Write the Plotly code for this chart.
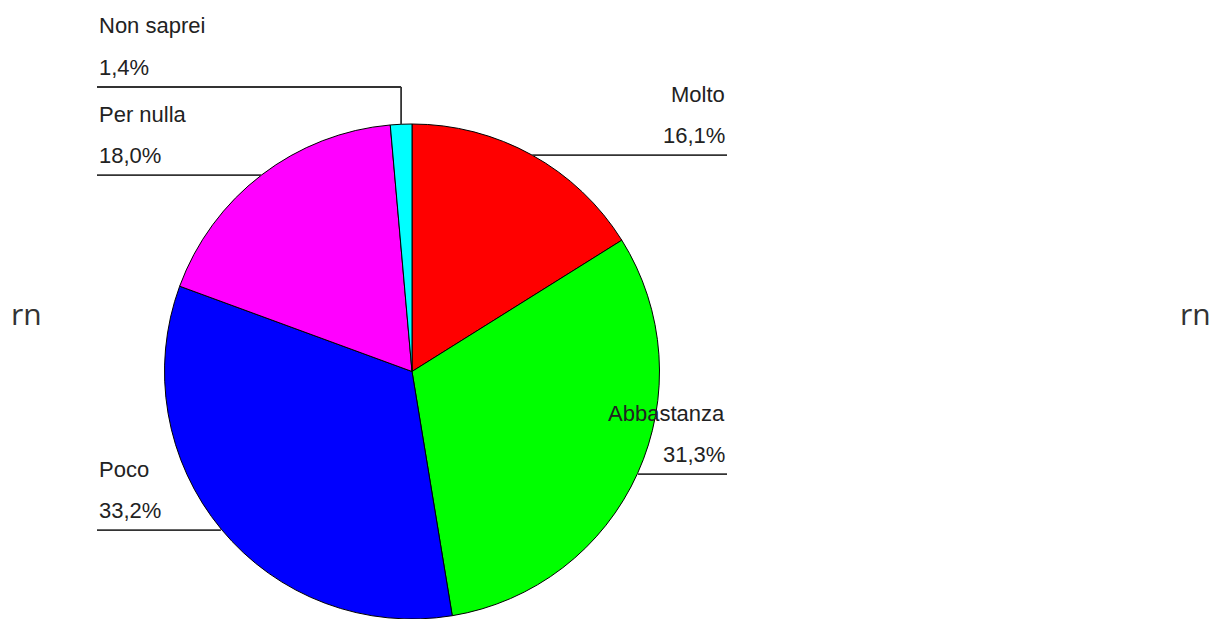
import numpy as np
import plotly.graph_objects as go

labels = ["Molto", "Abbastanza", "Poco", "Per nulla", "Non saprei"]
values = [16.1, 31.3, 33.2, 18.0, 1.4]
pct_text = ["16,1%", "31,3%", "33,2%", "18,0%", "1,4%"]
colors = ["#FF0000", "#00FF00", "#0000FF", "#FF00FF", "#00FFFF"]
sides = ["right", "right", "left", "left", "left"]

W, H = 1216, 619
CX, TOP, R = 412, 124, 248
LEFT_X, RIGHT_X = 97, 727
ELBOW_Y = 87  # leader for the tiny slice goes up then left

def px(x):
    return x / W

def py(y):
    return 1 - y / H

fig = go.Figure(go.Pie(
    labels=labels, values=values, sort=False, direction="clockwise", rotation=0,
    marker=dict(colors=colors, line=dict(color="#000000", width=1)),
    textinfo="none", hoverinfo="label+percent", showlegend=False,
    domain=dict(x=[px(CX - R), px(CX + R)], y=[0, py(TOP)]),
))

vals = np.array(values, dtype=float)
cum = np.cumsum(vals) - vals / 2
ang = np.deg2rad(cum / vals.sum() * 360)
cy = TOP + R
ax = CX + R * np.sin(ang)
ay = cy - R * np.cos(ang)

shapes = []
annotations = []
font = dict(family="Liberation Sans, Arial, sans-serif", size=22, color="#222222")
lc = dict(color="#333333", width=1.8)
for i, lab in enumerate(labels):
    if i == len(labels) - 1:
        line_y = ELBOW_Y
        shapes.append(dict(type="line", xref="paper", yref="paper",
                           x0=px(LEFT_X), y0=py(line_y), x1=px(ax[i]), y1=py(line_y), line=lc))
        shapes.append(dict(type="line", xref="paper", yref="paper",
                           x0=px(ax[i]), y0=py(line_y), x1=px(ax[i]), y1=py(ay[i]), line=lc))
    else:
        line_y = ay[i]
        x_end = LEFT_X if sides[i] == "left" else RIGHT_X
        shapes.append(dict(type="line", xref="paper", yref="paper",
                           x0=px(ax[i]), y0=py(line_y), x1=px(x_end), y1=py(line_y), line=lc))
    tx = LEFT_X if sides[i] == "left" else RIGHT_X
    xa = "left" if sides[i] == "left" else "right"
    annotations.append(dict(xref="paper", yref="paper", x=px(tx), y=py(line_y - 61),
                            text=lab, showarrow=False, xanchor=xa, yanchor="middle", font=font))
    annotations.append(dict(xref="paper", yref="paper", x=px(tx), y=py(line_y - 20),
                            text=pct_text[i], showarrow=False, xanchor=xa, yanchor="middle", font=font))

rn_font = dict(family="Open Sans, Noto Sans, sans-serif", size=30, color="#333333")
annotations.append(dict(xref="paper", yref="paper", x=px(26), y=py(313), text="rn",
                        showarrow=False, xanchor="center", yanchor="middle", font=rn_font))
annotations.append(dict(xref="paper", yref="paper", x=px(1195), y=py(313), text="rn",
                        showarrow=False, xanchor="center", yanchor="middle", font=rn_font))

fig.update_layout(
    width=W, height=H, autosize=False,
    margin=dict(l=0, r=0, t=0, b=0),
    paper_bgcolor="#FFFFFF", plot_bgcolor="#FFFFFF",
    shapes=shapes, annotations=annotations,
)

fig.write_html("out.html", config={"displayModeBar": False},
               post_script="document.body.style.margin='0';document.body.style.overflow='hidden';")
